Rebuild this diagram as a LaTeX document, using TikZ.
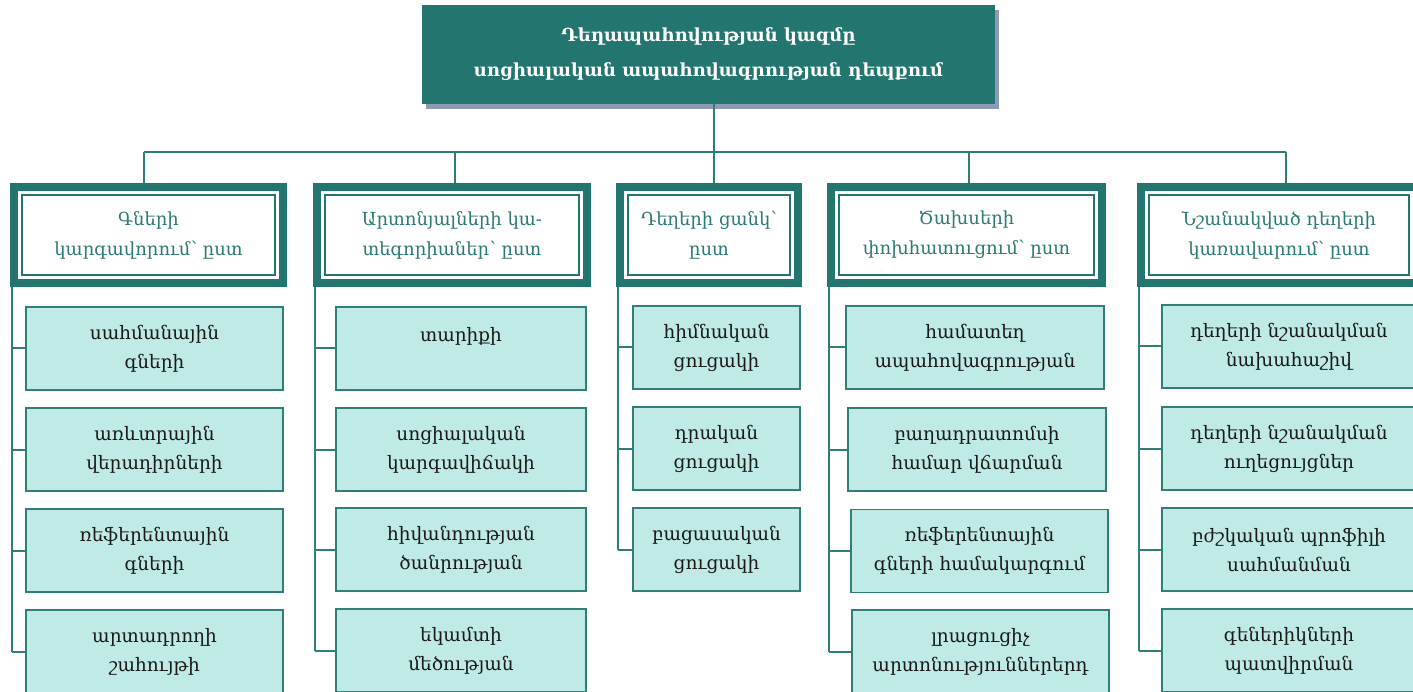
\documentclass[tikz,border=0pt]{standalone}
\usepackage{fontspec}
\setmainfont{DejaVu Serif}
\usetikzlibrary{positioning,shadows}

\definecolor{teal0}{HTML}{22766F}
\definecolor{tealline}{HTML}{2F7F77}
\definecolor{tealtext}{HTML}{2B7A73}
\definecolor{mint}{HTML}{BFEAE5}
\definecolor{shadowc}{HTML}{8E9AB3}

\begin{document}
\begin{tikzpicture}[x=1pt,y=-1pt]

\useasboundingbox (0,0) rectangle (1413,692);
\clip (0,0) rectangle (1413,692);

% set styles here
\tikzstyle{title}=[fill=teal0,text=white,align=center,minimum width=573pt,minimum height=99pt,
  font=\fontsize{18}{35}\selectfont\bfseries,
  drop shadow={shadow xshift=4pt,shadow yshift=-5pt,fill=shadowc,opacity=1}];
\tikzstyle{cat}=[draw=teal0,line width=8pt,fill=white,text=tealtext,align=center,minimum height=96pt,
  font=\fontsize{18}{30}\selectfont];
\tikzstyle{inframe}=[draw=teal0,line width=1.8pt];
\tikzstyle{sub}=[draw=tealline,line width=1.2pt,fill=mint,text=black!90,align=center,minimum height=83pt,
  font=\fontsize{18.5}{29}\selectfont];
\tikzstyle{conn}=[draw=tealline,line width=2pt];

\node (c0) at (708.5, 54.5) [title] {Դեղապահովության կազմը\\սոցիալական ապահովագրության դեպքում};

\node (c1) at (148.5, 235) [cat,minimum width=269pt] {Գների\\կարգավորում՝ ըստ};
\node (c2) at (452, 235) [cat,minimum width=270pt] {Արտոնյալների կա-\\տեգորիաներ՝ ըստ};
\node (c3) at (709, 235) [cat,minimum width=178pt] {Դեղերի ցանկ՝\\ըստ};
\node (c4) at (966.5, 235) [cat,minimum width=271pt] {Ծախսերի\\փոխհատուցում՝ ըստ};
\node (c5) at (1279, 235) [cat,minimum width=276pt] {Նշանակված դեղերի\\կառավարում՝ ըստ};
\foreach \c in {1,...,5}
  \draw[inframe] ([shift={(12,12)}]c\c.north west) rectangle ([shift={(-12,-12)}]c\c.south east);

% column 1
\node (s11) at (154.5, 348.5) [sub,minimum width=257pt] {սահմանային\\գների};
\node (s12) at (154.5, 449.5) [sub,minimum width=257pt] {առևտրային\\վերադիրների};
\node (s13) at (154.5, 550.5) [sub,minimum width=257pt] {ռեֆերենտային\\գների};
\node (s14) at (154.5, 651.5) [sub,minimum width=257pt] {արտադրողի\\շահույթի};
% column 2
\node (s21) at (461, 348.5) [sub,minimum width=250pt] {տարիքի\\~};
\node (s22) at (461, 449.5) [sub,minimum width=250pt] {սոցիալական\\կարգավիճակի};
\node (s23) at (461, 549.5) [sub,minimum width=250pt] {հիվանդության\\ծանրության};
\node (s24) at (461, 650.5) [sub,minimum width=250pt] {եկամտի\\մեծության};
% column 3
\node (s31) at (716.5, 347.5) [sub,minimum width=167pt] {հիմնական\\ցուցակի};
\node (s32) at (716.5, 448.5) [sub,minimum width=167pt] {դրական\\ցուցակի};
\node (s33) at (716.5, 549.5) [sub,minimum width=167pt] {բացասական\\ցուցակի};
% column 4
\node (s41) at (975, 347.5) [sub,minimum width=258pt] {համատեղ\\ապահովագրության};
\node (s42) at (977, 449.5) [sub,minimum width=258pt] {բաղադրատոմսի\\համար վճարման};
\node (s43) at (979.5, 551) [sub,minimum width=257pt] {ռեֆերենտային\\գների համակարգում};
\node (s44) at (980.5, 651.5) [sub,minimum width=257pt] {լրացուցիչ\\արտոնություններերդ};
% column 5
\node (s51) at (1289, 346.5) [sub,minimum width=254pt] {դեղերի նշանակման\\նախահաշիվ};
\node (s52) at (1289, 448.5) [sub,minimum width=254pt] {դեղերի նշանակման\\ուղեցույցներ};
\node (s53) at (1289, 549.5) [sub,minimum width=254pt] {բժշկական պրոֆիլի\\սահմանման};
\node (s54) at (1289, 650.5) [sub,minimum width=254pt] {գեներիկների\\պատվիրման};

% tree lines
\coordinate (bar) at (0, 152);
\draw[conn] ([xshift=5.5]c0.south) -- ([xshift=5.5]c0.south |- bar);
\draw[conn] ([xshift=-4.5]c1.north |- bar) -- ([xshift=7]c5.north |- bar);
\foreach \c/\d in {1/-4.5,2/3,3/5,4/2.5,5/7}
  \draw[conn] ([xshift=\d]c\c.north |- bar) -- ([xshift=\d]c\c.north);
\foreach \c/\n in {1/4,2/4,3/3,4/4,5/4} {
  \draw[conn] ([xshift=1.5]c\c.south west) -- ([xshift=1.5]c\c.south west |- s\c\n.west);
  \foreach \k in {1,...,\n}
    \draw[conn] ([xshift=1.5]c\c.south west |- s\c\k.west) -- (s\c\k.west);
}

\end{tikzpicture}
\end{document}
